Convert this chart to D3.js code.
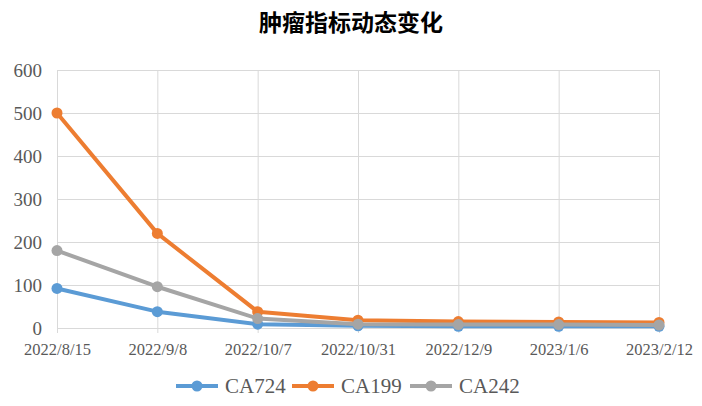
<head>
<meta charset="utf-8" />
<title></title>
<style>
body { margin: 0; background: #fff; }
.grid line { stroke: #d9d9d9; stroke-width: 1px; }
.axis text { font-family: "Liberation Serif", serif; fill: #595959; }
.axis path { display: none; }
</style>
</head>
<body>
<div id="container"></div>
</body>
<script src="https://cdn.jsdelivr.net/npm/d3@7/dist/d3.min.js"></script>
<script>
var dates = ["2022/8/15", "2022/9/8", "2022/10/7", "2022/10/31", "2022/12/9", "2023/1/6", "2023/2/12"]
var ca724 = [92, 38, 9, 5, 4, 4, 4]
var ca199 = [500, 220, 38, 18, 15, 14, 13]
var ca242 = [180, 96, 22, 9, 8, 8, 7]
var yTicks = [0, 100, 200, 300, 400, 500, 600]

var series = [
    { name: "CA724", values: ca724, color: "#5b9bd5" },
    { name: "CA199", values: ca199, color: "#ed7d31" },
    { name: "CA242", values: ca242, color: "#a5a5a5" }
]

var width = 702, height = 406
var plotLeft = 57, plotRight = 659, plotTop = 70, plotBottom = 328

var svg = d3.select("#container")
    .append("svg")
    .attr("width", width)
    .attr("height", height)

var x = d3.scalePoint().domain(dates).range([plotLeft, plotRight])
var y = d3.scaleLinear().domain([0, 600]).range([plotBottom, plotTop])

// title
svg.append("text")
    .attr("x", width / 2)
    .attr("y", 31)
    .attr("text-anchor", "middle")
    .attr("font-family", "Noto Sans CJK SC")
    .attr("font-weight", "bold")
    .attr("font-size", "23px")
    .attr("fill", "#000")
    .text("肿瘤指标动态变化")

// horizontal grid
svg.append("g").attr("class", "grid")
    .selectAll("line").data(yTicks).enter().append("line")
    .attr("x1", plotLeft).attr("x2", plotRight)
    .attr("y1", d => y(d) + 0.5).attr("y2", d => y(d) + 0.5)

// vertical grid (with small ticks below the axis)
svg.append("g").attr("class", "grid")
    .selectAll("line").data(dates).enter().append("line")
    .attr("x1", d => x(d) + 0.5).attr("x2", d => x(d) + 0.5)
    .attr("y1", plotTop).attr("y2", plotBottom + 5)

// axes (labels only)
svg.append("g").attr("class", "axis")
    .attr("transform", "translate(" + (plotLeft - 6) + ",0)")
    .call(d3.axisLeft(y).tickValues(yTicks).tickSize(0).tickPadding(9))
    .selectAll("text").attr("font-size", "19px")

svg.append("g").attr("class", "axis")
    .attr("transform", "translate(0," + plotBottom + ")")
    .call(d3.axisBottom(x).tickSize(0).tickPadding(15))
    .selectAll("text").attr("font-size", "16.5px")

var line = d3.line()
    .x((d, i) => x(dates[i]))
    .y(d => y(d))

series.forEach(function(s) {
    var g = svg.append("g")
    g.append("path")
        .attr("d", line(s.values))
        .attr("fill", "none")
        .attr("stroke", s.color)
        .attr("stroke-width", 4)
        .attr("stroke-linejoin", "round")
    g.selectAll("circle").data(s.values).enter().append("circle")
        .attr("cx", (d, i) => x(dates[i]))
        .attr("cy", d => y(d))
        .attr("r", 5.5)
        .attr("fill", s.color)
})

// legend
var legendX = [176, 292, 410]
var legend = svg.append("g")
series.forEach(function(s, i) {
    var lg = legend.append("g").attr("transform", "translate(" + legendX[i] + ",386)")
    lg.append("line")
        .attr("x1", 0).attr("x2", 42)
        .attr("stroke", s.color).attr("stroke-width", 4)
    lg.append("circle").attr("cx", 21).attr("r", 5.5).attr("fill", s.color)
    lg.append("text")
        .attr("x", 49).attr("y", 7)
        .attr("font-family", "Liberation Serif")
        .attr("font-size", "21px")
        .attr("fill", "#595959")
        .text(s.name)
})
</script>
